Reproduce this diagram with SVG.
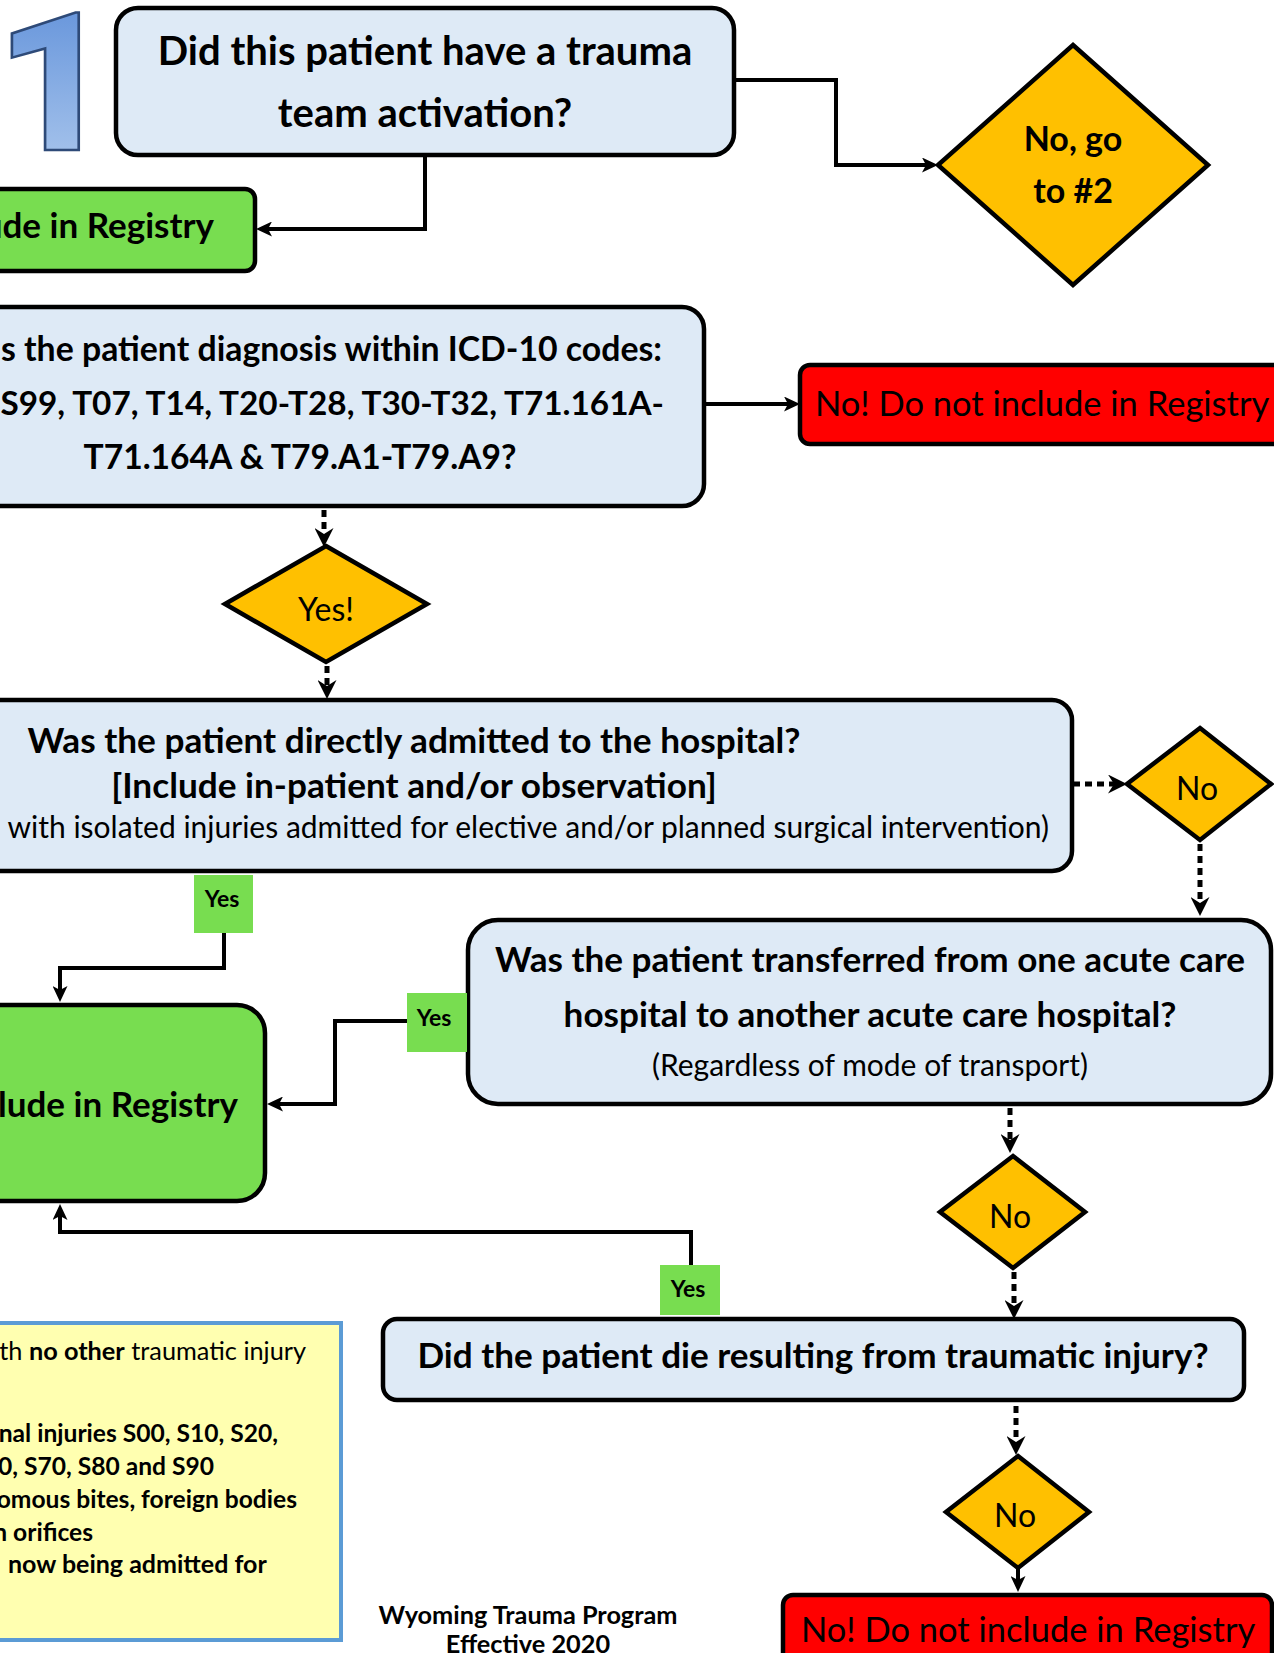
<svg xmlns="http://www.w3.org/2000/svg" width="1274" height="1653" viewBox="0 0 1274 1653">
<style>
.q{fill:#DEEAF6;stroke:#000;stroke-width:4.5}
.g{fill:#78DD50;stroke:#000;stroke-width:4.5}
.r{fill:#FF0000;stroke:#000;stroke-width:4.5}
.d{fill:#FFC000;stroke:#000;stroke-width:4.5;stroke-linejoin:miter}
.lab{fill:#78DD50}
.t{font-family:Lato,"Open Sans","Liberation Sans",sans-serif;fill:#000}
.b{font-weight:bold}
.sl{fill:none;stroke:#000;stroke-width:4;marker-end:url(#ah)}
.dl{fill:none;stroke:#000;stroke-width:5;stroke-dasharray:7 5;marker-end:url(#ahd)}
.big{font-family:Roboto,"Open Sans","Noto Sans",sans-serif;font-weight:900;font-size:193px;fill:url(#one);stroke:#2E4A78;stroke-width:2.5}
</style>
<defs>
<linearGradient id="one" x1="0" y1="0" x2="0" y2="1">
<stop offset="0" stop-color="#5A8CD8"/>
<stop offset="1" stop-color="#B3CDEF"/>
</linearGradient>
<marker id="ah" viewBox="0 0 16 15" refX="6" refY="7.5" markerWidth="16" markerHeight="15" markerUnits="userSpaceOnUse" orient="auto">
<path d="M0,0 L16,7.5 L0,15 L4,7.5 z" fill="#000"/>
</marker>
<marker id="ahd" viewBox="0 0 19 19" refX="8" refY="9.5" markerWidth="19" markerHeight="19" markerUnits="userSpaceOnUse" orient="auto">
<path d="M0,0 L19,9.5 L0,19 L6,9.5 z" fill="#000"/>
</marker>
</defs>

<g id="num1">
<text class="big" transform="translate(-4.7,150) scale(1.06,1)" x="0" y="0">1</text>
</g>

<g id="connectors">
<path class="sl" d="M734,80 H836 V165 H928"/>
<path class="sl" d="M425,155 V229 H266"/>
<path class="sl" d="M704,404 H790"/>
<path class="dl" d="M324,510 V536"/>
<path class="dl" d="M327,666 V688"/>
<path class="dl" d="M1073,784 H1116"/>
<path class="dl" d="M1200,844 V905"/>
<path class="sl" d="M224,933 V968 H60 V992"/>
<path class="sl" d="M407,1021 H335 V1104 H277"/>
<path class="dl" d="M1010,1108 V1142"/>
<path class="sl" d="M691,1265 V1232 H60 V1214"/>
<path class="dl" d="M1014,1272 V1308"/>
<path class="dl" d="M1016,1406 V1444"/>
<path class="sl" d="M1018,1568 V1582"/>
</g>

<g id="n-activation">
<rect class="q" x="116" y="8" width="618" height="147" rx="22"/>
<text class="t b" x="425" y="65" font-size="40" text-anchor="middle">Did this patient have a trauma</text>
<text class="t b" x="425" y="127" font-size="40" text-anchor="middle">team activation?</text>
</g>

<g id="n-go2">
<polygon class="d" points="1073,45 1208,165 1073,285 938,165"/>
<text class="t b" x="1073" y="151" font-size="34" text-anchor="middle">No, go</text>
<text class="t b" x="1073" y="203" font-size="34" text-anchor="middle">to #2</text>
</g>

<g id="n-include1">
<rect class="g" x="-30" y="189" width="285" height="82" rx="10"/>
<text class="t b" x="214" y="238" font-size="35" text-anchor="end">ude in Registry</text>
</g>

<g id="n-icd">
<rect class="q" x="-30" y="307" width="734" height="199" rx="22"/>
<text class="t b" x="662" y="361" font-size="33.8" text-anchor="end">s the patient diagnosis within ICD-10 codes:</text>
<text class="t b" x="664" y="415" font-size="33.3" text-anchor="end">S99, T07, T14, T20-T28, T30-T32, T71.161A-</text>
<text class="t b" x="300" y="469" font-size="33.6" text-anchor="middle">T71.164A &amp; T79.A1-T79.A9?</text>
</g>

<g id="n-no-icd">
<rect class="r" x="800" y="365" width="500" height="79" rx="10"/>
<text class="t" x="815" y="416" font-size="34.5">No! Do not include in Registry</text>
</g>

<g id="n-yes">
<polygon class="d" points="326,546 427,604 326,662 225,604"/>
<text class="t" x="326" y="621" font-size="32" text-anchor="middle">Yes!</text>
</g>

<g id="n-admitted">
<rect class="q" x="-30" y="700" width="1102" height="171" rx="20"/>
<text class="t b" x="414" y="753" font-size="35.2" text-anchor="middle">Was the patient directly admitted to the hospital?</text>
<text class="t b" x="414" y="798" font-size="35.2" text-anchor="middle">[Include in-patient and/or observation]</text>
<text class="t" x="1049" y="838" font-size="30" text-anchor="end">with isolated injuries admitted for elective and/or planned surgical intervention)</text>
</g>

<g id="n-no1">
<polygon class="d" points="1200,728 1271,784 1200,840 1127,784"/>
<text class="t" x="1197" y="800" font-size="32" text-anchor="middle">No</text>
</g>

<g id="l-yes1">
<rect class="lab" x="194" y="875" width="59" height="58"/>
<text class="t b" x="222" y="907" font-size="23" text-anchor="middle">Yes</text>
</g>

<g id="n-transfer">
<rect class="q" x="468" y="920" width="803" height="184" rx="30"/>
<text class="t b" x="870" y="972" font-size="35.1" text-anchor="middle">Was the patient transferred from one acute care</text>
<text class="t b" x="870" y="1027" font-size="35.1" text-anchor="middle">hospital to another acute care hospital?</text>
<text class="t" x="870" y="1076" font-size="30" text-anchor="middle">(Regardless of mode of transport)</text>
</g>

<g id="l-yes2">
<rect class="lab" x="407" y="993" width="60" height="59"/>
<text class="t b" x="434" y="1026" font-size="23" text-anchor="middle">Yes</text>
</g>

<g id="n-include2">
<rect class="g" x="-30" y="1005" width="295" height="196" rx="28"/>
<text class="t b" x="238" y="1117" font-size="35" text-anchor="end">lude in Registry</text>
</g>

<g id="n-no2">
<polygon class="d" points="1013,1156 1085,1212 1013,1268 940,1212"/>
<text class="t" x="1010" y="1228" font-size="32" text-anchor="middle">No</text>
</g>

<g id="l-yes3">
<rect class="lab" x="660" y="1265" width="60" height="50"/>
<text class="t b" x="688" y="1297" font-size="23" text-anchor="middle">Yes</text>
</g>

<g id="n-die">
<rect class="q" x="383" y="1319" width="861" height="81" rx="14"/>
<text class="t b" x="813" y="1368" font-size="35.1" text-anchor="middle">Did the patient die resulting from traumatic injury?</text>
</g>

<g id="n-no3">
<polygon class="d" points="1018,1456 1089,1512 1018,1568 946,1512"/>
<text class="t" x="1015" y="1527" font-size="32" text-anchor="middle">No</text>
</g>

<g id="n-no-die">
<rect class="r" x="783" y="1595" width="489" height="90" rx="10"/>
<text class="t" x="801" y="1642" font-size="34.5">No! Do not include in Registry</text>
</g>

<g id="n-note">
<rect x="-10" y="1323" width="351" height="317" fill="#FFFFB0" stroke="#5B9BD5" stroke-width="4"/>
<text class="t" x="306" y="1360" font-size="25.3" text-anchor="end">th <tspan class="b">no other</tspan> traumatic injury</text>
<text class="t b" x="278" y="1442" font-size="24.6" text-anchor="end">nal injuries S00, S10, S20,</text>
<text class="t b" x="214" y="1475" font-size="24.6" text-anchor="end">60, S70, S80 and S90</text>
<text class="t b" x="297" y="1508" font-size="24.6" text-anchor="end">omous bites, foreign bodies</text>
<text class="t b" x="93" y="1541" font-size="24.6" text-anchor="end">n orifices</text>
<text class="t b" x="8" y="1573" font-size="25">now being admitted for</text>
</g>

<g id="footer">
<text class="t b" x="528" y="1624" font-size="25.3" text-anchor="middle">Wyoming Trauma Program</text>
<text class="t b" x="528" y="1653" font-size="25.3" text-anchor="middle">Effective 2020</text>
</g>
</svg>
